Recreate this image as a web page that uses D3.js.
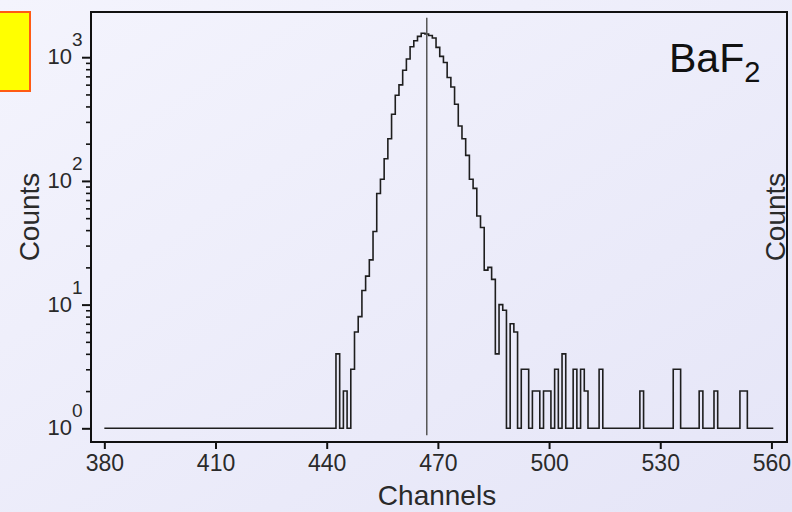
<!DOCTYPE html>
<html>
<head>
<meta charset="utf-8">
<script src="https://cdn.jsdelivr.net/npm/d3@7"></script>
<style>
  html, body { margin: 0; padding: 0; }
  body { width: 792px; height: 512px; overflow: hidden; font-family: "Liberation Sans", Arial, sans-serif; }
</style>
</head>
<body>
<div id="chart"></div>
<script>
// spectrum range (channels)
const firstChannel = 380;
const lastChannel = 560;

// channels that have counts; every other channel is empty
const hitChannels = [443, 445, 447, 448, 449, 450, 451, 452, 453, 454, 455, 456, 457, 458, 459, 460,
                     461, 462, 463, 464, 465, 466, 467, 468, 469, 470, 471, 472, 473, 474, 475, 476,
                     477, 478, 479, 480, 481, 482, 483, 484, 485, 486, 487, 488, 490, 491, 493, 494,
                     496, 497, 499, 500, 502, 504, 507, 509, 510, 514, 525, 534, 535, 541, 545, 552, 553];
const hitCounts   = [4, 2, 3, 6, 8, 13, 17, 23, 39, 79, 103, 151, 219, 346, 493, 597,
                     785, 966, 1214, 1358, 1475, 1560, 1540, 1500, 1429, 1200, 1015, 907, 686, 575, 417, 278,
                     219, 161, 103, 87, 52, 42, 19, 20, 16, 4, 10, 9, 7, 6, 3, 3,
                     2, 2, 2, 2, 3, 4, 3, 3, 2, 3, 2, 3, 3, 2, 2, 2, 2];

const xTickValues = [380, 410, 440, 470, 500, 530, 560];
const yDecades = [0, 1, 2, 3];

// centroid marker
const peakChannel = 467;
const peakLineSpan = [0.88, 2080];

const xTitle = "Channels";
const yTitle = "Counts";
const crystal = "BaF";
const crystalSub = "2";

const W = 792, H = 512;
const plot = { left: 91, right: 787, top: 12, bottom: 442 };
const font = "Liberation Sans, Arial, sans-serif";

const svg = d3.select("#chart").append("svg")
    .attr("width", W)
    .attr("height", H)
    .style("font-family", font);

// background
const defs = svg.append("defs");
const grad = defs.append("linearGradient")
    .attr("id", "bg")
    .attr("x1", "0").attr("y1", "0").attr("x2", "1").attr("y2", "1");
grad.append("stop").attr("offset", "0%").attr("stop-color", "#f4f4fd");
grad.append("stop").attr("offset", "100%").attr("stop-color", "#e5e5f7");
svg.append("rect")
    .attr("width", W).attr("height", H)
    .attr("fill", "url(#bg)");

// scales
const x = d3.scaleLinear()
    .domain([376.4, 564.2])
    .range([plot.left, plot.right]);

const y = d3.scaleLog()
    .domain([0.775, 2320])
    .range([plot.bottom, plot.top]);

// yellow tag at the left edge
svg.append("rect")
    .attr("x", -10).attr("y", 12)
    .attr("width", 40).attr("height", 79)
    .attr("fill", "#ffff00")
    .attr("stroke", "#ff5a14")
    .attr("stroke-width", 2);

// histogram bins
const bins = d3.range(firstChannel, lastChannel + 1).map(ch => {
    const i = hitChannels.indexOf(ch);
    return { ch: ch, n: i < 0 ? 0 : hitCounts[i] };
});
const stepPts = bins.map(b => ({ x: Math.max(b.ch - 0.5, firstChannel), c: Math.max(b.n, 1) }));
stepPts.push({ x: lastChannel + 0.5, c: stepPts[stepPts.length - 1].c });

const line = d3.line()
    .x(d => x(d.x))
    .y(d => y(d.c))
    .curve(d3.curveStepAfter);

svg.append("path")
    .datum(stepPts)
    .attr("d", line)
    .attr("fill", "none")
    .attr("stroke", "#1e1e1e")
    .attr("stroke-width", 1.6);

// centroid line
svg.append("line")
    .attr("x1", x(peakChannel)).attr("x2", x(peakChannel))
    .attr("y1", y(peakLineSpan[0])).attr("y2", y(peakLineSpan[1]))
    .attr("stroke", "#555")
    .attr("stroke-width", 1.5);

// frame
svg.append("rect")
    .attr("x", plot.left).attr("y", plot.top)
    .attr("width", plot.right - plot.left)
    .attr("height", plot.bottom - plot.top)
    .attr("fill", "none")
    .attr("stroke", "#111")
    .attr("stroke-width", 2);

// x axis
const xAxis = svg.append("g")
    .attr("transform", `translate(0,${plot.bottom})`)
    .call(d3.axisBottom(x).tickValues(xTickValues).tickSize(7).tickPadding(6).tickFormat(d3.format("d")));
xAxis.select(".domain").remove();
xAxis.selectAll(".tick line").attr("stroke", "#111").attr("stroke-width", 2);
xAxis.selectAll(".tick text")
    .attr("fill", "#2a2a2a")
    .style("font-size", "23px")
    .style("font-family", font);

// y axis: minor ticks 2..9 per decade
const minorVals = [];
yDecades.slice(0, -1).forEach(k => d3.range(2, 10).forEach(m => minorVals.push(m * Math.pow(10, k))));

const yMinor = svg.append("g")
    .attr("transform", `translate(${plot.left},0)`)
    .call(d3.axisLeft(y).tickValues(minorVals).tickSize(5).tickFormat(""));
yMinor.select(".domain").remove();
yMinor.selectAll(".tick line").attr("stroke", "#111").attr("stroke-width", 1.6);

const yMajor = svg.append("g")
    .attr("transform", `translate(${plot.left},0)`)
    .call(d3.axisLeft(y).tickValues(yDecades.map(k => Math.pow(10, k))).tickSize(9).tickFormat(""));
yMajor.select(".domain").remove();
yMajor.selectAll(".tick line").attr("stroke", "#111").attr("stroke-width", 2);

// decade labels 10^k
const decLabels = svg.append("g").attr("fill", "#2a2a2a");
yDecades.forEach(k => {
    const ty = y(Math.pow(10, k));
    decLabels.append("text")
        .attr("x", 72).attr("y", ty + 7)
        .attr("text-anchor", "end")
        .style("font-size", "22px")
        .text("10");
    decLabels.append("text")
        .attr("x", 72).attr("y", ty - 11)
        .style("font-size", "19px")
        .text(k);
});

// axis titles
svg.append("text")
    .attr("x", (plot.left + plot.right) / 2 - 2)
    .attr("y", 505)
    .attr("text-anchor", "middle")
    .attr("fill", "#2a2a2a")
    .style("font-size", "28px")
    .text(xTitle);

svg.append("text")
    .attr("transform", `translate(39,217) rotate(-90)`)
    .attr("text-anchor", "middle")
    .attr("fill", "#2a2a2a")
    .style("font-size", "28px")
    .text(yTitle);

svg.append("text")
    .attr("transform", `translate(785,217) rotate(-90)`)
    .attr("text-anchor", "middle")
    .attr("fill", "#2a2a2a")
    .style("font-size", "28px")
    .text(yTitle);

// crystal label
const lab = svg.append("text")
    .attr("x", 669).attr("y", 72)
    .attr("fill", "#111")
    .style("font-size", "41px");
lab.append("tspan").text(crystal);
lab.append("tspan")
    .attr("dy", 10)
    .style("font-size", "29px")
    .text(crystalSub);
</script>
</body>
</html>
